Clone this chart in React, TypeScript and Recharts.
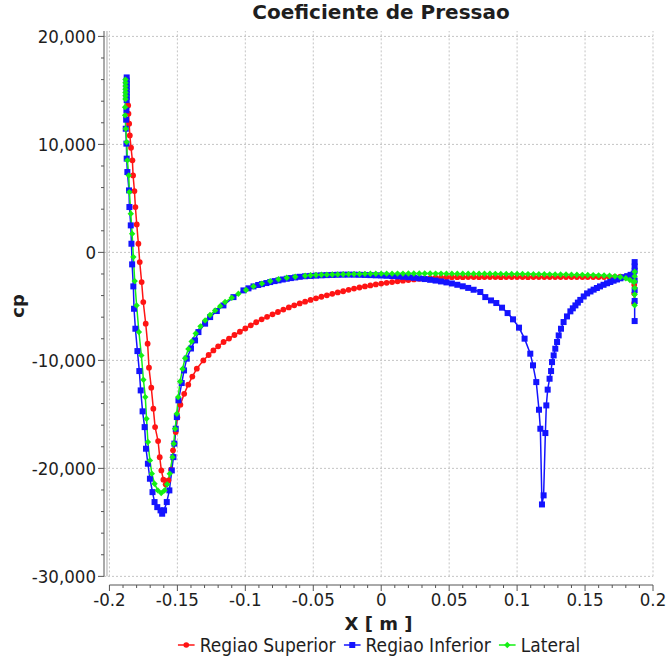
import React from 'react';
import { LineChart, Line, XAxis, YAxis, CartesianGrid, ReferenceLine } from 'recharts';

// Regiao Superior (red)
const supX = [
  -0.1862, -0.186, -0.1855, -0.185, -0.1841, -0.1831, -0.1826, -0.1816, -0.1809, -0.1799,
  -0.1787, -0.1777, -0.1763, -0.1751, -0.1733, -0.1719, -0.1709, -0.1692, -0.1677, -0.1664,
  -0.1642, -0.163, -0.1618, -0.1603, -0.1586, -0.1566, -0.1546, -0.1532, -0.1512, -0.15,
  -0.1478, -0.145, -0.142, -0.139, -0.1357, -0.1309, -0.127, -0.1235,
  -0.12, -0.116, -0.112, -0.108, -0.104, -0.1, -0.096, -0.092, -0.088, -0.084,
  -0.08, -0.076, -0.072, -0.068, -0.064, -0.06, -0.056, -0.052, -0.048, -0.044,
  -0.04, -0.036, -0.032, -0.028, -0.024, -0.02, -0.016, -0.012, -0.008, -0.004,
  0, 0.004, 0.008, 0.012, 0.016, 0.02, 0.024, 0.028, 0.032, 0.036,
  0.04, 0.044, 0.048, 0.052, 0.056, 0.06, 0.064, 0.068, 0.072, 0.076,
  0.08, 0.084, 0.088, 0.092, 0.096, 0.1, 0.104, 0.108, 0.112, 0.116,
  0.12, 0.124, 0.128, 0.132, 0.136, 0.14, 0.144, 0.148, 0.152, 0.156,
  0.16, 0.164, 0.168, 0.172, 0.176, 0.18, 0.183, 0.1858, 0.1862, 0.1862, 0.1862,
];
const supCp = [
  13610, 12840, 11920, 10830, 9690, 8520, 7130, 5680, 4200, 2590,
  800, -900, -2750, -4600, -6600, -8450, -10680, -12530, -14470, -16180,
  -17470, -18960, -20190, -21050, -21480, -21110, -20120, -18330, -16640, -15300,
  -14100, -13100, -12250, -11500, -10770, -10000, -9500, -9080,
  -8700, -8300, -7980, -7650, -7350, -7050, -6750, -6470, -6200, -5970,
  -5740, -5520, -5300, -5100, -4900, -4730, -4560, -4400, -4250, -4110,
  -3980, -3840, -3710, -3600, -3470, -3350, -3250, -3150, -3060, -2970,
  -2890, -2820, -2750, -2680, -2620, -2560, -2500, -2450, -2410, -2380,
  -2350, -2330, -2310, -2300, -2300, -2295, -2290, -2290, -2295, -2290,
  -2285, -2290, -2295, -2290, -2290, -2285, -2290, -2295, -2290, -2290,
  -2285, -2290, -2290, -2285, -2290, -2290, -2285, -2290, -2285, -2285,
  -2285, -2280, -2275, -2265, -2255, -2245, -2240, -2260, -3000, -3800, -4700,
];

// Regiao Inferior (blue)
const infX = [
  -0.1873, -0.1873, -0.1873, -0.1873, -0.1873, -0.1873, -0.1873, -0.1873,
  -0.1875, -0.1877, -0.188, -0.1875, -0.1873, -0.1868, -0.1856, -0.1853, -0.1843, -0.1838,
  -0.1833, -0.1824, -0.1819, -0.1809, -0.1794, -0.178, -0.177, -0.1756, -0.1741, -0.1731,
  -0.1717, -0.1702, -0.1683, -0.1668, -0.1648, -0.1624, -0.1612, -0.1598, -0.1578, -0.1559,
  -0.1541, -0.1529, -0.1522, -0.1512, -0.1504, -0.1492, -0.1468, -0.1451, -0.1431, -0.14,
  -0.137, -0.1345, -0.1296, -0.1259, -0.121, -0.1161, -0.1087, -0.1014, -0.0977, -0.094,
  -0.0905, -0.0878, -0.0845, -0.0817, -0.0785, -0.0756, -0.0725, -0.0695, -0.0665, -0.0633,
  -0.06, -0.056, -0.052, -0.048, -0.044, -0.04, -0.036, -0.032, -0.028, -0.024,
  -0.02, -0.016, -0.012, -0.008, -0.004, 0, 0.004, 0.008, 0.012, 0.016,
  0.02, 0.024, 0.028, 0.032, 0.036, 0.04, 0.044, 0.048, 0.052, 0.056,
  0.06, 0.064, 0.068, 0.0729, 0.0766, 0.0808, 0.0847,
  0.0889, 0.093, 0.097, 0.1014, 0.1055, 0.1097, 0.1117, 0.1141, 0.1161, 0.1171,
  0.1183, 0.1195, 0.1208, 0.1215, 0.1225, 0.1239, 0.125, 0.1257, 0.1269, 0.1281,
  0.1294, 0.1306, 0.1323, 0.1342, 0.1367, 0.1392, 0.141, 0.1429, 0.1447, 0.1465,
  0.149, 0.1515, 0.154, 0.1563, 0.1587, 0.161, 0.1636, 0.1662, 0.1686, 0.171,
  0.1735, 0.176, 0.1785, 0.181, 0.1835, 0.1858, 0.1865, 0.1865, 0.1865, 0.1865,
  0.1865, 0.1865, 0.1865,
];
const infCp = [
  16200, 15900, 15600, 15300, 15000, 14700, 14400, 14100,
  13150, 12290, 11450, 10070, 8680, 7440, 5740, 4200, 2500, 800,
  -1110, -3150, -5220, -7070, -9140, -10990, -12780, -14720, -16180, -18180,
  -19570, -20960, -22200, -23120, -23590, -23890, -24200, -23890, -23120, -22040,
  -20190, -18960, -17710, -16330, -15250, -13700, -12100, -10930, -9840, -8900,
  -8150, -7380, -6600, -5990, -5430, -4910, -4140, -3520, -3330, -3150,
  -3020, -2940, -2840, -2750, -2660, -2590, -2510, -2440, -2380, -2320,
  -2260, -2210, -2180, -2150, -2125, -2105, -2090, -2075, -2065, -2060,
  -2065, -2075, -2090, -2105, -2125, -2140, -2165, -2190, -2225, -2260,
  -2300, -2350, -2410, -2470, -2540, -2610, -2690, -2780, -2880, -3000,
  -3140, -3290, -3460, -3670, -4140, -4450, -4690,
  -5120, -5620, -6200, -6970, -7990, -9380, -10460, -12010, -14570, -16330,
  -23340, -22500, -16730, -14170, -12710, -11700, -10990, -10160, -9540, -8920,
  -8300, -7690, -7070, -6450, -5930, -5460, -5180, -4910, -4650, -4400,
  -4080, -3800, -3620, -3450, -3300, -3150, -3000, -2860, -2740, -2620,
  -2510, -2400, -2300, -2200, -2080, -1970, -900, -1300, -1700, -2600,
  -3500, -4500, -6360,
];

// Lateral (green)
const latX = [
  -0.1882, -0.1882, -0.1882, -0.1882, -0.1882, -0.1882, -0.1882,
  -0.1885, -0.1885, -0.188, -0.1873, -0.1868, -0.1858, -0.1853, -0.1843, -0.1833, -0.1824,
  -0.1814, -0.18, -0.1783, -0.1765, -0.175, -0.1736, -0.1727, -0.1717, -0.1702, -0.1688,
  -0.1668, -0.1644, -0.1619, -0.1595, -0.1575, -0.1556, -0.1536, -0.1527, -0.1517, -0.1504,
  -0.1494, -0.148, -0.1462, -0.1443, -0.1419, -0.1395, -0.1365, -0.133, -0.1296, -0.126,
  -0.1222, -0.1185, -0.1149, -0.11, -0.1051, -0.0995, -0.094, -0.0878, -0.0817, -0.0756,
  -0.0695, -0.0633, -0.056, -0.052, -0.048, -0.044, -0.04, -0.036, -0.032, -0.028,
  -0.024, -0.02, -0.016, -0.012, -0.008, -0.004, 0, 0.004, 0.008, 0.012,
  0.016, 0.02, 0.024, 0.028, 0.032, 0.036, 0.04, 0.044, 0.048, 0.052,
  0.056, 0.06, 0.064, 0.068, 0.072, 0.076, 0.08, 0.084, 0.088, 0.092,
  0.096, 0.1, 0.104, 0.108, 0.112, 0.116, 0.12, 0.124, 0.128, 0.132,
  0.136, 0.14, 0.144, 0.148, 0.152, 0.156, 0.16, 0.164, 0.168, 0.172,
  0.176, 0.18, 0.183, 0.1858, 0.1865, 0.1865, 0.1865, 0.1865, 0.1865, 0.1865,
];
const latCp = [
  16000, 15700, 15400, 15100, 14800, 14500, 14200,
  13450, 12690, 11450, 10210, 8520, 7130, 5580, 3580, 1730, -430,
  -2660, -4910, -7380, -9540, -11790, -13400, -15400, -17560, -19260, -20490,
  -21420, -22040, -22290, -22040, -21480, -20490, -18960, -17710, -16330, -14940,
  -13400, -11950, -10800, -9800, -8950, -8250, -7500, -6850, -6300, -5800,
  -5370, -4980, -4600, -4200, -3830, -3480, -3150, -2890, -2660, -2490,
  -2350, -2250, -2170, -2120, -2095, -2075, -2060, -2050, -2040, -2030,
  -2015, -2000, -1995, -1990, -1985, -1980, -1970, -1970, -1968, -1965,
  -1965, -1962, -1960, -1960, -1960, -1962, -1965, -1965, -1968, -1970,
  -1972, -1975, -1975, -1978, -1980, -1982, -1985, -1988, -1992, -1996,
  -2000, -2004, -2008, -2012, -2018, -2022, -2028, -2034, -2040, -2046,
  -2052, -2060, -2070, -2080, -2092, -2105, -2125, -2145, -2170, -2210,
  -2280, -2400, -2560, -2750, -1800, -2200, -2700, -3300, -3900, -4900,
];

const xTicks = [-0.2, -0.15, -0.1, -0.05, 0, 0.05, 0.1, 0.15, 0.2];
const yTicks = [-30000, -20000, -10000, 0, 10000, 20000];

const toRows = (xs: number[], ys: number[]) => xs.map((x, i) => ({ x, cp: ys[i] }));
const supData = toRows(supX, supCp);
const infData = toRows(infX, infCp);
const latData = toRows(latX, latCp);

// minor tick positions (axis decoration only)
const xMinor: number[] = [];
for (let i = -20; i <= 20; i++) xMinor.push(i / 100);
const yMinor: number[] = [];
for (let v = -30000; v <= 20000; v += 2000) yMinor.push(v);

const X_MIN = -0.204;
const Y_MIN = -30800;
const Y_MAX = 20500;

const FONT = '"DejaVu Sans Condensed", "Liberation Sans", sans-serif';
const BOLD_FONT = '"DejaVu Sans", Verdana, sans-serif';
const TXT = '#1e1e1e';
const RED = '#ff1414';
const BLUE = '#1414ff';
const GREEN = '#14f014';

const XTick = (props: any) => {
  const { x, y, payload } = props;
  const v = payload.value;
  const major = Math.round(v * 100) % 5 === 0;
  return (
    <g>
      <line x1={x} y1={y} x2={x} y2={y + (major ? 6 : 3)} stroke="#555" />
      {major && (
        <text x={x} y={y + 21} textAnchor="middle" fontSize={18.5} fill={TXT} fontFamily={FONT}>
          {String(Number(v.toFixed(2)))}
        </text>
      )}
    </g>
  );
};

const YTick = (props: any) => {
  const { x, y, payload } = props;
  const v = payload.value;
  const major = v % 10000 === 0;
  return (
    <g>
      <line x1={x - (major ? 6 : 3)} y1={y} x2={x} y2={y} stroke="#555" />
      {major && (
        <text x={x - 8} y={y + 6.5} textAnchor="end" fontSize={18.5} fill={TXT} fontFamily={FONT}>
          {v.toLocaleString('en-US')}
        </text>
      )}
    </g>
  );
};

const SquareDot = (p: any) => {
  if (p.cx == null || p.cy == null) return <g key={`s${p.index}`} />;
  return <rect key={`s${p.index}`} x={p.cx - 3} y={p.cy - 3} width={6} height={6} fill={BLUE} />;
};

const DiamondDot = (p: any) => {
  if (p.cx == null || p.cy == null) return <g key={`g${p.index}`} />;
  const { cx, cy } = p;
  return <path key={`g${p.index}`} d={`M${cx},${cy - 3.2}L${cx + 3.2},${cy}L${cx},${cy + 3.2}L${cx - 3.2},${cy}Z`} fill={GREEN} />;
};

const CpLabel = () => (
  <text x={17} y={306} transform="rotate(-90 17 306)" textAnchor="middle" dominantBaseline="central"
    fontSize={18} fontWeight="bold" fill={TXT} fontFamily={BOLD_FONT}>
    cp
  </text>
);

const LegendIcon = ({ color, shape }: { color: string; shape: string }) => (
  <svg width={17} height={10} style={{ marginRight: 5 }}>
    <line x1={0} y1={5} x2={17} y2={5} stroke={color} strokeWidth={1.5} />
    {shape === 'circle' && <circle cx={8.5} cy={5} r={2.8} fill={color} />}
    {shape === 'square' && <rect x={5.5} y={2} width={6} height={6} fill={color} />}
    {shape === 'diamond' && <path d="M8.5,1.8L11.7,5L8.5,8.2L5.3,5Z" fill={color} />}
  </svg>
);

const legendItems = [
  { name: 'Regiao Superior', color: RED, shape: 'circle' },
  { name: 'Regiao Inferior', color: BLUE, shape: 'square' },
  { name: 'Lateral', color: GREEN, shape: 'diamond' },
];

export default function App() {
  return (
    <div style={{ position: 'absolute', left: 0, top: 0, width: 666, height: 659, background: '#fff', fontFamily: FONT }}>
      <div
        style={{
          position: 'absolute', top: 0, left: 381, transform: 'translateX(-50%)', fontFamily: BOLD_FONT,
          fontSize: 20, fontWeight: 'bold', color: TXT, whiteSpace: 'nowrap', lineHeight: '24px',
        }}
      >
        Coeficiente de Pressao
      </div>
      <LineChart width={666} height={659} margin={{ top: 31, right: 13, bottom: 34, left: 0 }}>
        <CartesianGrid stroke="#c4c4c4" strokeDasharray="2 2" vertical={false} horizontalValues={yTicks} />
        {xTicks.map((t) => (
          <ReferenceLine
            key={`vg${t}`}
            segment={[{ x: t, y: -30000 }, { x: t, y: Y_MAX }]}
            stroke="#c4c4c4"
            strokeDasharray="2 2"
          />
        ))}
        <ReferenceLine segment={[{ x: -0.2, y: Y_MIN }, { x: 0.2, y: Y_MIN }]} stroke="#555" />
        <ReferenceLine segment={[{ x: X_MIN, y: -30000 }, { x: X_MIN, y: Y_MAX }]} stroke="#555" />
        <ReferenceLine segment={[{ x: -0.2018, y: -30000 }, { x: -0.2018, y: Y_MAX }]} stroke="#aaa" />
        <XAxis
          type="number"
          dataKey="x"
          domain={[X_MIN, 0.2]}
          ticks={xMinor}
          interval={0}
          allowDataOverflow
          height={40}
          tickSize={0}
          tickMargin={0}
          tickLine={false}
          tick={<XTick />}
          axisLine={false}
          label={{ value: 'X [ m ]', position: 'insideBottom', offset: -5, fontSize: 18, fontWeight: 'bold', fill: TXT, fontFamily: BOLD_FONT }}
        />
        <YAxis
          type="number"
          dataKey="cp"
          domain={[Y_MIN, Y_MAX]}
          ticks={yMinor}
          interval={0}
          allowDataOverflow
          width={104}
          tickSize={0}
          tickMargin={0}
          tickLine={false}
          tick={<YTick />}
          axisLine={false}
          label={{ value: 'cp', content: <CpLabel /> }}
        />
        <Line data={supData} dataKey="cp" type="linear" stroke={RED} strokeWidth={1.5} dot={{ r: 2.9, fill: RED, stroke: 'none' }} isAnimationActive={false} />
        <Line data={infData} dataKey="cp" type="linear" stroke={BLUE} strokeWidth={1.5} dot={SquareDot} isAnimationActive={false} />
        <Line data={latData} dataKey="cp" type="linear" stroke={GREEN} strokeWidth={1.5} dot={DiamondDot} isAnimationActive={false} />
      </LineChart>
      <div
        style={{
          position: 'absolute', top: 633, left: 383, transform: 'translateX(-50%)',
          display: 'flex', alignItems: 'center', fontSize: 19, color: TXT, whiteSpace: 'nowrap', lineHeight: '24px',
        }}
      >
        {legendItems.map((it) => (
          <div key={it.name} style={{ display: 'flex', alignItems: 'center', marginRight: 8 }}>
            <LegendIcon color={it.color} shape={it.shape} />
            <span>{it.name}</span>
          </div>
        ))}
      </div>
    </div>
  );
}
